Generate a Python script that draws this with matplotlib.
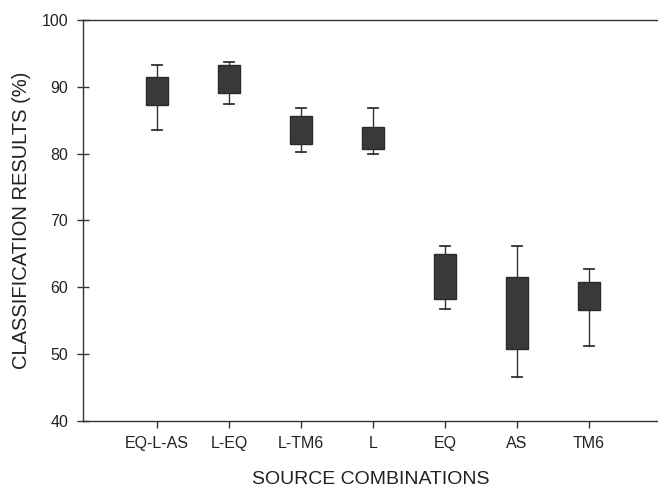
import matplotlib
matplotlib.use("Agg")
import matplotlib.pyplot as plt

categories = ["EQ-L-AS", "L-EQ", "L-TM6", "L", "EQ", "AS", "TM6"]
whisker_low = [83.6, 87.4, 80.3, 79.9, 56.7, 46.6, 51.2]
box_low = [87.3, 89.0, 81.4, 80.7, 58.3, 50.8, 56.6]
box_high = [91.5, 93.2, 85.7, 84.0, 65.0, 61.6, 60.8]
whisker_high = [93.3, 93.7, 86.9, 86.9, 66.2, 66.2, 62.8]

plt.rcParams['font.family'] = ['Liberation Sans', 'DejaVu Sans']

fig = plt.figure(figsize=(6.58, 4.87), dpi=100)
ax = fig.add_axes([0.126, 0.1355, 0.874, 0.8235])

stats = []
for name, wl, bl, bh, wh in zip(categories, whisker_low, box_low, box_high, whisker_high):
    stats.append(dict(label=name, whislo=wl, q1=bl, med=(bl + bh) / 2, q3=bh, whishi=wh, fliers=[]))

positions = list(range(1, len(categories) + 1))
ax.bxp(stats, positions=positions, widths=0.3, patch_artist=True, showfliers=False,
       boxprops=dict(facecolor="#3a3a3a", edgecolor="#2a2a2a", linewidth=1.0),
       whiskerprops=dict(color="#333333", linewidth=1.0),
       capprops=dict(color="#333333", linewidth=1.3),
       medianprops=dict(visible=False),
       capwidths=0.13)

ax.set_xlim(-0.03, 7.96)
ax.set_ylim(40, 100)
ax.set_yticks([40, 50, 60, 70, 80, 90, 100])
ax.set_xticks(positions)
ax.set_xticklabels(categories)
ax.spines['right'].set_visible(False)
for s in ['left', 'top', 'bottom']:
    ax.spines[s].set_color("#333333")
    ax.spines[s].set_linewidth(1.0)
ax.tick_params(axis='y', direction='inout', length=9, width=1, colors="#333333", labelsize=11.5, labelcolor="#222222", pad=6)
ax.tick_params(axis='x', direction='out', length=5, width=1, colors="#333333", labelsize=11.5, labelcolor="#222222", pad=6)
ax.set_ylabel("CLASSIFICATION RESULTS (%)", fontsize=14.5, color="#222222", labelpad=8)
ax.set_xlabel("SOURCE COMBINATIONS", fontsize=14, color="#222222", labelpad=14)

fig.savefig("out.png", dpi=100)
